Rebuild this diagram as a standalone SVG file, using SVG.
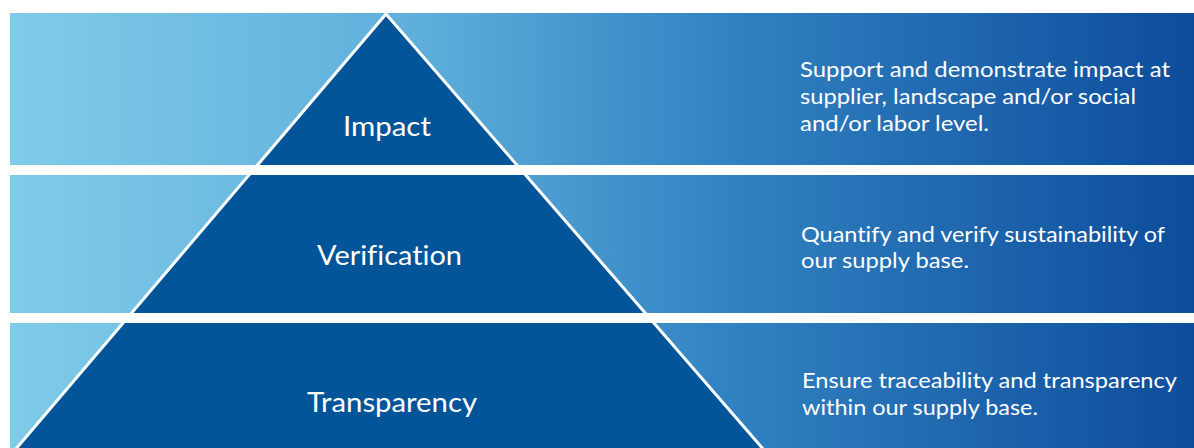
<svg xmlns="http://www.w3.org/2000/svg" width="1194" height="448" viewBox="0 0 1194 448">
<defs>
<linearGradient id="bg" x1="10" y1="0" x2="1194" y2="0" gradientUnits="userSpaceOnUse">
<stop offset="0" stop-color="#80cbe8"/>
<stop offset="0.35" stop-color="#5eaedb"/>
<stop offset="0.6" stop-color="#3283c2"/>
<stop offset="1" stop-color="#0d4c9b"/>
</linearGradient>
</defs>
<style>
.band{fill:url(#bg)}
.lbl{font-family:Lato,"Open Sans",sans-serif;font-size:27px;fill:#ffffff;text-anchor:middle;font-variant-ligatures:none}
.desc{font-family:Lato,"Open Sans",sans-serif;font-size:21px;fill:#ffffff;font-variant-ligatures:none}
</style>
<rect width="1194" height="448" fill="#ffffff"/>
<g id="bands-bg">
<rect class="band" x="10" y="13" width="1184" height="152"/>
<rect class="band" x="10" y="175" width="1184" height="138"/>
<rect class="band" x="10" y="323" width="1184" height="125"/>
</g>
<g id="pyramid">
<polygon points="386,14 15,450 764,450" fill="#03559a" stroke="#ffffff" stroke-width="3" stroke-linejoin="miter"/>
<rect x="0" y="165" width="1194" height="10" fill="#ffffff"/>
<rect x="0" y="313" width="1194" height="10" fill="#ffffff"/>
</g>
<g id="impact">
<text class="lbl" x="387" y="136" textLength="88" lengthAdjust="spacingAndGlyphs">Impact</text>
<text class="desc" x="800" y="77" textLength="370" lengthAdjust="spacingAndGlyphs">Support and demonstrate impact at</text>
<text class="desc" x="800" y="104" textLength="336" lengthAdjust="spacingAndGlyphs">supplier, landscape and/or social</text>
<text class="desc" x="800" y="131" textLength="189" lengthAdjust="spacingAndGlyphs">and/or labor level.</text>
</g>
<g id="verification">
<text class="lbl" x="389.5" y="265" textLength="145" lengthAdjust="spacingAndGlyphs">Verification</text>
<text class="desc" x="801" y="242" textLength="364" lengthAdjust="spacingAndGlyphs">Quantify and verify sustainability of</text>
<text class="desc" x="801" y="268" textLength="168" lengthAdjust="spacingAndGlyphs">our supply base.</text>
</g>
<g id="transparency">
<text class="lbl" x="392" y="412" textLength="170" lengthAdjust="spacingAndGlyphs">Transparency</text>
<text class="desc" x="802" y="388" textLength="375" lengthAdjust="spacingAndGlyphs">Ensure traceability and transparency</text>
<text class="desc" x="802" y="415" textLength="236" lengthAdjust="spacingAndGlyphs">within our supply base.</text>
</g>
<g id="connectors"/>
</svg>
